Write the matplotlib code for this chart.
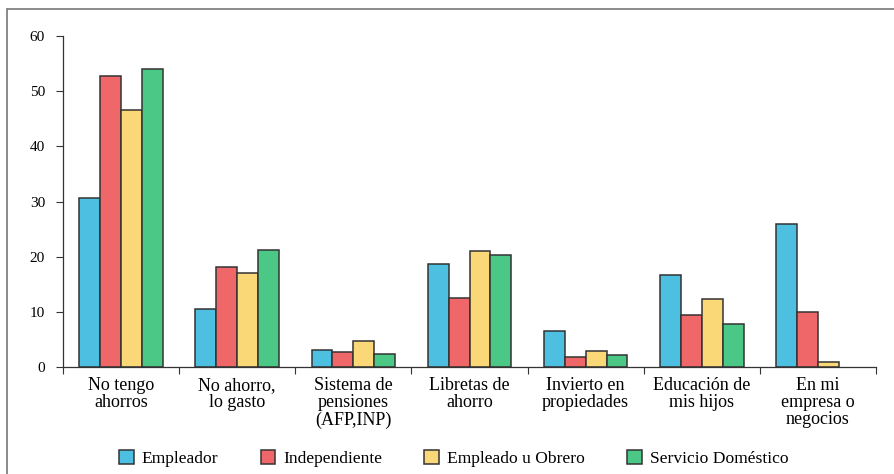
import numpy as np
import matplotlib.pyplot as plt
from matplotlib.lines import Line2D

categorias = ['No tengo\nahorros', 'No ahorro,\nlo gasto', 'Sistema de\npensiones\n(AFP,INP)',
              'Libretas de\nahorro', 'Invierto en\npropiedades', 'Educación de\nmis hijos',
              'En mi\nempresa o\nnegocios']

empleador = [30.7, 10.6, 3.0, 18.7, 6.5, 16.7, 25.9]
independiente = [52.8, 18.2, 2.8, 12.5, 1.8, 9.5, 10.0]
empleado_obrero = [46.6, 17.0, 4.8, 21.0, 2.9, 12.4, 0.9]
servicio_domestico = [54.1, 21.3, 2.3, 20.3, 2.2, 7.8, 0.0]

series = [('Empleador', empleador, '#4dbfe1'),
          ('Independiente', independiente, '#f0676a'),
          ('Empleado u Obrero', empleado_obrero, '#fad878'),
          ('Servicio Doméstico', servicio_domestico, '#4cc886')]

plt.rcParams['font.family'] = ['Liberation Serif', 'DejaVu Serif']

fig = plt.figure(figsize=(8.95, 4.74), dpi=100)
ax = fig.add_axes([0.0704, 0.2257, 0.9084, 0.6983])

x = np.arange(len(categorias))
w = 0.18
for i, (nombre, vals, col) in enumerate(series):
    v = np.array(vals)
    xs = x + (i - 1.5) * w
    keep = v > 0
    ax.bar(xs[keep], v[keep], width=w, color=col, edgecolor='#333333',
           linewidth=1.1, label=nombre)

ax.set_xlim(-0.5, len(categorias) - 0.5)
ax.set_ylim(0, 60)
ax.set_yticks(range(0, 61, 10))
ax.set_xticks(x)
ax.set_xticklabels(categorias, fontsize=13, linespacing=1.02)
ax.set_xticks(np.arange(-0.5, len(categorias)), minor=True)
ax.tick_params(axis='x', which='major', length=0, pad=7)
ax.tick_params(axis='x', which='minor', length=5, color='#333333', width=0.8)
ax.tick_params(axis='y', length=5, color='#333333', width=0.8, labelsize=11, pad=8)

for s in ['top', 'right']:
    ax.spines[s].set_visible(False)
for s in ['left', 'bottom']:
    ax.spines[s].set_color('#333333')
    ax.spines[s].set_linewidth(0.9)

fig.legend(loc='lower center', bbox_to_anchor=(0.507, -0.018), ncol=4, frameon=False,
           fontsize=12.6, handlelength=0.85, handleheight=0.85, columnspacing=2.4,
           handletextpad=0.45)

# page border
fig.add_artist(Line2D([8 / 895, 1], [1 - 9 / 474, 1 - 9 / 474], color='#777777', lw=1.2))
fig.add_artist(Line2D([7 / 895, 7 / 895], [0, 1 - 9 / 474], color='#777777', lw=1.2))

fig.savefig('out.png', dpi=100)
